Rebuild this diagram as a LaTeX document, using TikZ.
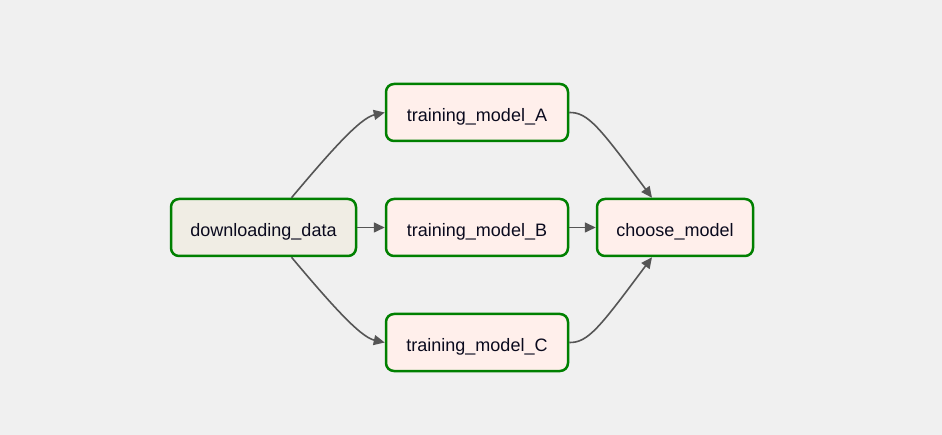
\documentclass[tikz,border=0pt]{standalone}
\usepackage{fontspec}
\setmainfont{Liberation Sans}
\usetikzlibrary{arrows.meta}
\definecolor{bg}{HTML}{F0F0F0}
\definecolor{dlfill}{HTML}{F0EDE4}
\definecolor{trfill}{HTML}{FFEFEB}
\definecolor{bordergreen}{HTML}{008000}
\definecolor{edgegray}{HTML}{555555}
\definecolor{txt}{HTML}{0A0A1E}
\newcommand{\tasklabel}[1]{\raisebox{-4.5pt}[13pt][4pt]{#1}}
\tikzset{
  task/.style={draw=bordergreen, line width=2.5pt, rounded corners=8pt,
    minimum height=57pt, inner sep=0pt, font=\fontsize{18}{21}\selectfont, text=txt},
  edge/.style={draw=edgegray, line width=1.6pt, -{Triangle[length=11pt,width=10pt]}}
}
\begin{document}
\begin{tikzpicture}[x=1pt,y=-1pt]
\fill[bg] (0,0) rectangle (942,435);
\useasboundingbox (0,0) rectangle (942,435);
\node[task, fill=dlfill, minimum width=185pt] (d) at (263.5,227.5) {\tasklabel{downloading\_data}};
\node[task, fill=trfill, minimum width=182pt] (a) at (477,112.5) {\tasklabel{training\_model\_A}};
\node[task, fill=trfill, minimum width=182pt] (b) at (477,227.5) {\tasklabel{training\_model\_B}};
\node[task, fill=trfill, minimum width=182pt] (c) at (477,342.5) {\tasklabel{training\_model\_C}};
\node[task, fill=trfill, minimum width=156pt] (m) at (675,227.5) {\tasklabel{choose\_model}};
\draw[edge] ([xshift=28pt]d.north) .. controls (330,152) and (360,118) .. (a.west);
\draw[edge] (d.east) -- (b.west);
\draw[edge] ([xshift=28pt]d.south) .. controls (330,303) and (360,337) .. (c.west);
\draw[edge] (a.east) .. controls (588,112) and (600,128) .. ([xshift=-23pt]m.north);
\draw[edge] (b.east) -- (m.west);
\draw[edge] (c.east) .. controls (588,343) and (600,327) .. ([xshift=-23pt]m.south);
\end{tikzpicture}
\end{document}
